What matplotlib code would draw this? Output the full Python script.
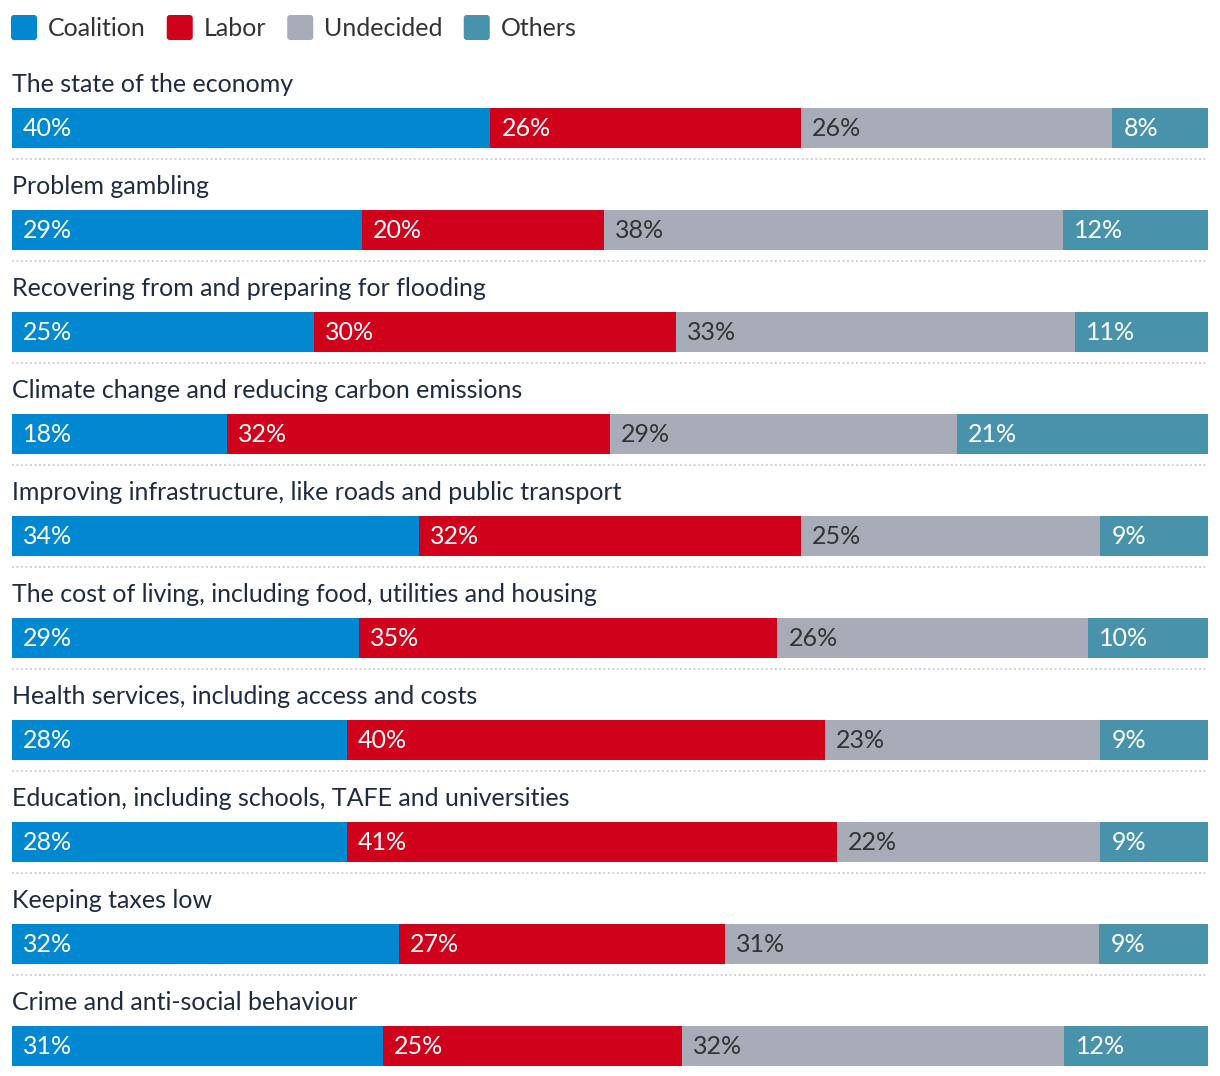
import numpy as np
import matplotlib.pyplot as plt
from matplotlib.patches import FancyBboxPatch

plt.rcParams['font.family'] = ['Lato', 'DejaVu Sans']

# datos
issues = ["The state of the economy",
          "Problem gambling",
          "Recovering from and preparing for flooding",
          "Climate change and reducing carbon emissions",
          "Improving infrastructure, like roads and public transport",
          "The cost of living, including food, utilities and housing",
          "Health services, including access and costs",
          "Education, including schools, TAFE and universities",
          "Keeping taxes low",
          "Crime and anti-social behaviour"]
parties = ["Coalition", "Labor", "Undecided", "Others"]
coalition = [40, 29, 25, 18, 34, 29, 28, 28, 32, 31]
labor = [26, 20, 30, 32, 32, 35, 40, 41, 27, 25]
undecided = [26, 38, 33, 29, 25, 26, 23, 22, 31, 32]
others = [8, 12, 11, 21, 9, 10, 9, 9, 9, 12]

colores = ["#0288d1", "#d0021b", "#a7acb8", "#4893ab"]
texto_col = ["white", "white", "#333333", "white"]

W, H = 1220, 1076
fig = plt.figure(figsize=(W / 100, H / 100), dpi=100)
ax = fig.add_axes([0, 0, 1, 1])
ax.set_xlim(0, W)
ax.set_ylim(H, 0)
ax.axis("off")

x0, ancho = 12, 1196
valores = np.array([coalition, labor, undecided, others], dtype=float)

for i, nombre in enumerate(issues):
    top = 108 + i * 102
    ax.text(x0, top - 23, nombre, fontsize=18, color="#1f2a44", va="center", ha="left")
    total = valores[:, i].sum()
    izq = 0.0
    for k in range(4):
        w = valores[k, i] / total
        ax.barh(top + 20, w * ancho, left=x0 + izq * ancho, height=40,
                color=colores[k], linewidth=0)
        ax.text(x0 + izq * ancho + 11, top + 20, "%d%%" % valores[k, i],
                fontsize=18, color=texto_col[k], va="center", ha="left")
        izq += w
    ax.plot([x0, x0 + ancho], [top + 51, top + 51], color="#cccccc",
            linestyle=(0, (1, 1.5)), linewidth=1.3)

# leyenda
lx = 11
for k, p in enumerate(parties):
    caja = FancyBboxPatch((lx, 15), 26, 25, boxstyle="round,pad=0,rounding_size=3",
                          facecolor=colores[k], edgecolor="none")
    ax.add_patch(caja)
    t = ax.text(lx + 37, 28, p, fontsize=18, color="#333333", va="center", ha="left")
    fig.canvas.draw()
    bb = t.get_window_extent()
    lx = bb.x1 + 21

plt.savefig("out.png", dpi=100)
